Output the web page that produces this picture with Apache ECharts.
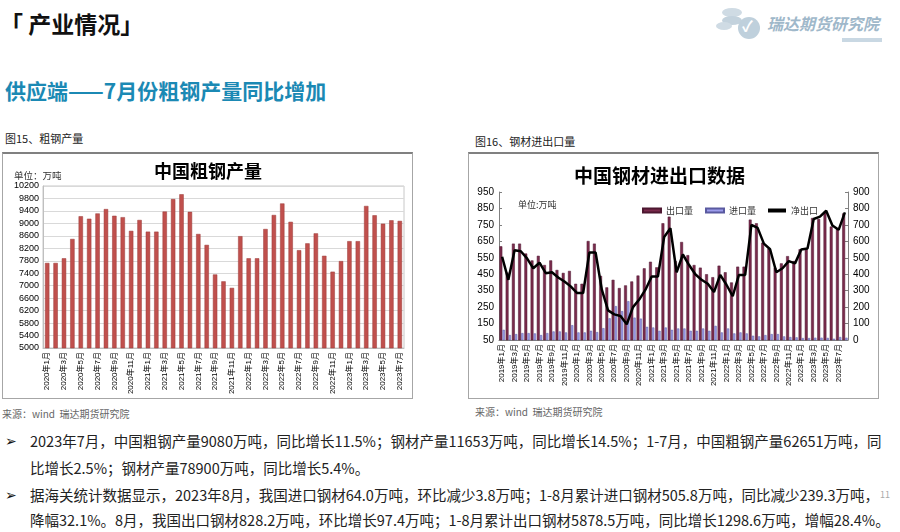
<!DOCTYPE html>
<html>
<head>
<meta charset="utf-8">
<script src="https://cdn.jsdelivr.net/npm/echarts@6/dist/echarts.min.js"></script>
<style>
body{margin:0;width:900px;height:532px;overflow:hidden;background:#fff;font-family:"Noto Sans CJK SC",sans-serif;position:relative}
.abs{position:absolute;white-space:nowrap}
.box{position:absolute;border:1px solid #a6a6a6;border-top:2px solid #808080;box-sizing:border-box}
.txt{font-size:14.5px;color:#222;line-height:20px;left:30px}
.coin{position:absolute;border-radius:50%;background:#cfdbe4}
.arrow{position:absolute;left:5px;font-size:14px;color:#111;font-family:'DejaVu Sans';line-height:20px}
</style>
</head>
<body>
<div class="abs" style="left:0;top:6px;font-size:23px;font-weight:bold;color:#111">「 产业情况」</div>

<div class="coin" style="left:722px;top:8px;width:20px;height:9px"></div>
<div class="coin" style="left:722px;top:16px;width:20px;height:9px;background:#c3d2dd"></div>
<div class="coin" style="left:716px;top:22px;width:16px;height:8px"></div>
<div class="coin" style="left:738px;top:17px;width:22px;height:22px;background:#bfd0dc"></div>
<div class="abs" style="left:742px;top:15px;font-size:15px;color:#fff;font-weight:bold">✓</div>
<div class="abs" style="left:767px;top:11px;font-size:16px;font-weight:bold;font-style:italic;color:#9fb8ca">瑞达期货研究院</div>
<div class="abs" style="left:842px;top:38px;width:40px;height:4px;background:#c9d8e3"></div>

<div class="abs" style="left:5px;top:75px;font-size:21px;font-weight:bold;color:#1b89b4">供应端——7月份粗钢产量同比增加</div>
<div class="abs" style="left:5px;top:130px;font-size:11px;color:#222">图15、粗钢产量</div>
<div class="abs" style="left:475px;top:133px;font-size:11px;color:#222">图16、钢材进出口量</div>

<div class="box" id="steel" style="left:2px;top:152px;width:411px;height:247px"></div>
<div class="box" id="trade" style="left:468px;top:152px;width:411px;height:247px"></div>

<div class="abs" style="left:2px;top:406px;font-size:10px;color:#666">来源：wind&nbsp;&nbsp;瑞达期货研究院</div>
<div class="abs" style="left:475px;top:404px;font-size:10px;color:#666">来源：wind&nbsp;&nbsp;瑞达期货研究院</div>

<div class="arrow" style="top:431px">➢</div>
<div class="abs txt" style="top:431px">2023年7月，中国粗钢产量9080万吨，同比增长11.5%；钢材产量11653万吨，同比增长14.5%；1-7月，中国粗钢产量62651万吨，同</div>
<div class="abs txt" style="top:458px">比增长2.5%；钢材产量78900万吨，同比增长5.4%。</div>
<div class="arrow" style="top:485px">➢</div>
<div class="abs txt" style="top:485px">据海关统计数据显示，2023年8月，我国进口钢材64.0万吨，环比减少3.8万吨；1-8月累计进口钢材505.8万吨，同比减少239.3万吨，</div>
<div class="abs txt" style="top:510px">降幅32.1%。8月，我国出口钢材828.2万吨，环比增长97.4万吨；1-8月累计出口钢材5878.5万吨，同比增长1298.6万吨，增幅28.4%。</div>
<div class="abs" style="left:880px;top:488px;font-size:9px;color:#aaa">11</div>

<script>
const CJK = '"Noto Sans CJK SC", sans-serif'
const NUM = '"Liberation Sans", "Noto Sans CJK SC", sans-serif'

// 粗钢产量 2020年1月 - 2023年7月（万吨）
const steelMonths = [
  '2020年1月','2020年2月','2020年3月','2020年4月','2020年5月','2020年6月','2020年7月','2020年8月','2020年9月','2020年10月','2020年11月','2020年12月',
  '2021年1月','2021年2月','2021年3月','2021年4月','2021年5月','2021年6月','2021年7月','2021年8月','2021年9月','2021年10月','2021年11月','2021年12月',
  '2022年1月','2022年2月','2022年3月','2022年4月','2022年5月','2022年6月','2022年7月','2022年8月','2022年9月','2022年10月','2022年11月','2022年12月',
  '2023年1月','2023年2月','2023年3月','2023年4月','2023年5月','2023年6月','2023年7月'
]
const crudeSteel = [
  7730, 7730, 7880, 8500, 9230, 9150, 9320, 9460, 9245, 9200, 8760, 9110,
  8735, 8735, 9380, 9780, 9935, 9370, 8660, 8310, 7360, 7140, 6930, 8590,
  7880, 7880, 8820, 9270, 9640, 9050, 8140, 8360, 8680, 7960, 7450, 7790,
  8430, 8430, 9560, 9260, 8990, 9100, 9080
]

// 钢材进出口 2019年1月 - 2023年8月（万吨）
const tradeMonths = [
  '2019年1月','2019年2月','2019年3月','2019年4月','2019年5月','2019年6月','2019年7月','2019年8月','2019年9月','2019年10月','2019年11月','2019年12月',
  '2020年1月','2020年2月','2020年3月','2020年4月','2020年5月','2020年6月','2020年7月','2020年8月','2020年9月','2020年10月','2020年11月','2020年12月',
  '2021年1月','2021年2月','2021年3月','2021年4月','2021年5月','2021年6月','2021年7月','2021年8月','2021年9月','2021年10月','2021年11月','2021年12月',
  '2022年1月','2022年2月','2022年3月','2022年4月','2022年5月','2022年6月','2022年7月','2022年8月','2022年9月','2022年10月','2022年11月','2022年12月',
  '2023年1月','2023年2月','2023年3月','2023年4月','2023年5月','2023年6月','2023年7月','2023年8月'
]
const exportVol = [
  620, 460, 636, 636, 576, 534, 562, 506, 534, 476, 458, 470,
  392, 392, 652, 636, 440, 370, 416, 366, 382, 406, 442, 486,
  526, 492, 760, 800, 530, 646, 566, 506, 490, 450, 432, 502,
  462, 400, 496, 496, 782, 760, 642, 606, 490, 516, 560, 530,
  602, 602, 792, 786, 830, 740, 728, 820
]
const importVol = [
  112, 80, 86, 92, 92, 90, 80, 92, 102, 102, 96, 140,
  96, 96, 106, 98, 122, 182, 256, 226, 286, 186, 180, 130,
  126, 106, 126, 112, 120, 120, 106, 106, 120, 106, 136, 96,
  120, 90, 96, 90, 76, 72, 80, 86, 86, 72, 68, 66,
  62, 62, 64, 64, 63, 58, 68, 64
]
const netExport = [
  506, 366, 546, 540, 496, 436, 470, 406, 412, 380, 356, 326,
  286, 286, 532, 532, 306, 180, 156, 146, 96, 200, 246, 306,
  386, 386, 626, 680, 412, 520, 456, 400, 366, 342, 292, 396,
  336, 266, 396, 396, 700, 682, 586, 552, 412, 436, 480, 466,
  550, 556, 736, 750, 786, 696, 670, 776
]

const plain = v => String(v) // 不要千位分隔符

// 图15
let steelChart = echarts.init(document.getElementById('steel'))
steelChart.setOption({
  animation: false,
  title: {
    text: '中国粗钢产量', left: 146, top: 3,
    textStyle: { fontSize: 18, fontWeight: 'bold', color: '#000', fontFamily: CJK }
  },
  graphic: [{
    type: 'text', left: 11, top: 17,
    style: { text: '单位：万吨', fontSize: 9.5, fill: '#333', fontFamily: CJK }
  }],
  grid: { left: 40, right: 8, top: 32, bottom: 50, show: true, borderColor: '#c8c8c8', borderWidth: 1 },
  xAxis: {
    type: 'category',
    data: steelMonths,
    axisTick: { show: false },
    axisLine: { lineStyle: { color: '#bfbfbf' } },
    axisLabel: { rotate: 90, interval: 1, fontSize: 8, color: '#000', margin: 4, fontFamily: NUM }
  },
  yAxis: {
    type: 'value', min: 5000, max: 10200, interval: 400,
    axisLine: { show: true, lineStyle: { color: '#bfbfbf' } },
    axisTick: { show: false },
    splitLine: { lineStyle: { color: '#d9d9d9' } },
    axisLabel: { fontSize: 9, color: '#000', margin: 4, fontFamily: NUM, formatter: plain }
  },
  series: [{
    type: 'bar',
    data: crudeSteel,
    barWidth: '52%',
    itemStyle: { color: '#c0504d', borderColor: '#9a3b39', borderWidth: 0.5 }
  }]
})

// 图16
let tradeChart = echarts.init(document.getElementById('trade'))
tradeChart.setOption({
  animation: false,
  title: {
    text: '中国钢材进出口数据', left: 100, top: 7,
    textStyle: { fontSize: 19, fontWeight: 'bold', color: '#000', fontFamily: CJK }
  },
  graphic: [{
    type: 'text', left: 49, top: 46,
    style: { text: '单位:万吨', fontSize: 9, fill: '#333', fontFamily: CJK }
  }],
  legend: {
    left: 168, top: 47, itemWidth: 18, itemHeight: 4, itemGap: 12,
    textStyle: { fontSize: 9, color: '#333', fontFamily: CJK },
    data: [
      { name: '出口量', icon: 'rect' },
      { name: '进口量', icon: 'rect' },
      { name: '净出口', icon: 'rect' }
    ]
  },
  grid: { left: 30, right: 30, top: 38, bottom: 58 },
  xAxis: {
    type: 'category',
    data: tradeMonths,
    axisTick: { show: false },
    axisLine: { lineStyle: { color: '#808080' } },
    axisLabel: { rotate: 90, interval: 1, fontSize: 8, color: '#000', margin: 4, fontFamily: NUM }
  },
  yAxis: [{
    type: 'value', min: 50, max: 950, interval: 100,
    axisLine: { show: true, lineStyle: { color: '#808080' } },
    axisTick: { show: true, inside: true, length: 3, lineStyle: { color: '#808080' } },
    splitLine: { show: false },
    axisLabel: { fontSize: 10, color: '#000', margin: 5, fontFamily: NUM }
  }, {
    type: 'value', min: 0, max: 900, interval: 100, position: 'right',
    axisLine: { show: true, lineStyle: { color: '#808080' } },
    axisTick: { show: true, inside: true, length: 3, lineStyle: { color: '#808080' } },
    splitLine: { show: false },
    axisLabel: { fontSize: 10, color: '#000', margin: 5, fontFamily: NUM }
  }],
  series: [{
    name: '出口量', type: 'bar', data: exportVol,
    barWidth: '46%', barGap: '8%',
    itemStyle: { color: '#7a2b4c', borderColor: '#4d1730', borderWidth: 0.5 }
  }, {
    name: '进口量', type: 'bar', data: importVol,
    barWidth: '36%',
    itemStyle: { color: '#9d9dec', borderColor: '#5a5aa0', borderWidth: 0.5 }
  }, {
    name: '净出口', type: 'line', data: netExport, yAxisIndex: 1,
    symbol: 'none',
    lineStyle: { color: '#000', width: 2.5 },
    itemStyle: { color: '#000' }
  }]
})
</script>
</body>
</html>
